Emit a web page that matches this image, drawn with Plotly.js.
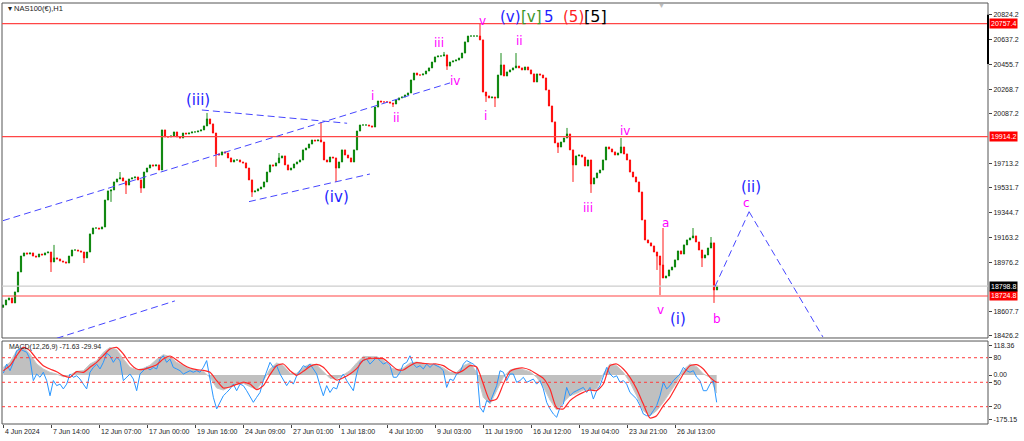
<!DOCTYPE html>
<html><head><meta charset="utf-8">
<script src="https://cdn.plot.ly/plotly-3.0.1.min.js"></script>
<style>html,body{margin:0;padding:0;background:#fff}#chart{width:1024px;height:441px}</style>
</head><body><div id="chart"></div>
<script>
// ---------- DATA ----------
const symbolTitle = 'NAS100(€),H1';
const macdTitle = 'MACD(12,26,9) -71.63 -29.94';
const firstOpen = 18640;
// closes of 4-hour groups of H1 bars (index k = group number)
const closes = [
18658,18695,18710,18673,18755,18904,19023,19046,19038,19046,
19023,19016,19038,19031,19046,19053,18979,19009,19001,18986,
18979,18971,19023,19068,19068,19061,19053,19009,19053,19188,
19232,19232,19225,19240,19441,19509,19516,19576,19598,19606,
19583,19553,19598,19606,19613,19591,19531,19650,19680,19703,
19695,19703,19665,19964,19912,19912,19919,19949,19912,19904,
19941,19934,19941,19949,19949,19956,19964,19994,20046,20009,
19941,19785,19777,19800,19792,19755,19725,19740,19740,19725,
19718,19680,19591,19501,19509,19524,19538,19576,19650,19703,
19695,19718,19755,19770,19703,19665,19680,19710,19725,19740,
19815,19829,19859,19889,19882,19889,19874,19740,19725,19762,
19755,19680,19725,19815,19777,19755,19725,19815,19956,20001,
20001,20001,19994,19986,20135,20180,20173,20173,20173,20165,
20158,20188,20203,20210,20225,20240,20337,20389,20374,20374,
20382,20404,20427,20471,20509,20516,20516,20524,20441,20471,
20479,20486,20501,20538,20621,20665,20665,20665,20665,20636,
20247,20218,20203,20210,20203,20374,20449,20367,20397,20412,
20427,20441,20427,20412,20434,20412,20382,20322,20382,20374,
20352,20262,20143,20024,19867,19837,19874,19904,19934,19815,
19703,19770,19777,19762,19695,19740,19561,19606,19643,19665,
19740,19837,19822,19800,19777,19792,19837,19785,19740,19650,
19613,19576,19501,19292,19143,19121,19098,19053,19023,18956,
18859,18874,18919,18941,18994,19061,19038,19106,19143,19158,
19173,19128,19068,19009,19031,19083,19121,18770,18798.8
];
const spikeHighK = [17,39,68,92,106,147,159,166,171,188,206,220,230,236];
const spikeHighP = [19106,19650,20091,19792,20024,20546,20762,20538,20538,19979,19904,19232,19232,19165];
const spikeLowK = [16,27,36,41,46,71,83,111,130,148,161,164,185,190,196,218,219,233,237];
const spikeLowP = [18904,18971,19427,19486,19494,19688,19464,19576,20135,20412,20173,20135,19792,19576,19494,18919,18732,18941,18673];

const levelPrices = [20757.4, 19914.2, 18724.8];
const bidPrice = 18798.8;
const priceTicks = [20824.2,20637.2,20455.7,20268.7,20087.2,19713.2,19531.7,19344.7,19163.2,18976.2,18607.7,18426.2];

const dateLabels = ['4 Jun 2024','7 Jun 14:00','12 Jun 07:00','17 Jun 00:00','19 Jun 16:00','24 Jun 09:00','27 Jun 01:00','1 Jul 18:00','4 Jul 10:00','9 Jul 03:00','11 Jul 19:00','16 Jul 12:00','19 Jul 04:00','23 Jul 21:00','26 Jul 13:00'];
const dateLabelStep = 16;

// trend lines: start index, start price, end index, end price
const trendK0 = [0, 66.3, 82, 17.9, 237.3, 248.7];
const trendP0 = [19287, 20113, 19429, 18409, 18794, 19354];
const trendK1 = [149, 114.7, 122.3, 57.3, 248.7, 273.3];
const trendP1 = [20315, 20014, 19635, 18688, 19354, 18419];

// wave labels
const degText = ['(iii)','(iv)','(i)','(ii)'];
const degK = [64.9, 111.2, 225.1, 249.3];
const degP = [20188, 19466, 18551, 19541];
const minText = ['i','ii','iii','iv','v','i','ii','iii','iv','a','v','b','c'];
const minK = [123.2,131.2,145.4,150.7,159.9,160.7,172.1,195.1,207.3,220.7,219,238.1,247.9];
const minP = [20218,20051,20611,20330,20780,20068,20630,19379,19959,19271,18621,18551,19417];
const topText = ['(v)','[v]','5','(5)','[5]'];
const topK = [164.9,172.1,179.6,185.9,192.9];
const topP = 20809;

// MACD panel (slow samples every 20/9 groups, fast samples every 10/9 groups)
const macdHist = [30.3,50.0,96.1,111.9,83.0,43.5,23.7,10.5,4.0,-6.6,
0,14.5,17.1,43.5,56.6,89.5,109.3,100.1,63.2,30.3,
19.8,26.3,38.2,61.9,80.3,72.4,50.0,35.6,23.7,18.4,
14.5,-9.2,-51.3,-59.3,-46.1,-36.9,-32.9,-46.1,-56.6,-22.4,
23.7,47.4,36.9,6.6,6.6,30.3,43.5,39.5,14.5,-13.2,
-15.8,1.3,17.1,47.4,73.7,72.4,72.4,59.3,30.3,19.8,
27.7,47.4,51.4,44.8,43.5,40.8,27.7,10.5,10.5,36.9,
47.4,10.5,-88.2,-114.6,-61.9,-9.2,19.8,
26.3,21.1,13.2,-9.2,-46.1,-98.8,-138.3,-108.0,-81.6,-72.4,
-59.3,-59.3,-55.3,4.0,43.5,36.9,10.5,-29.0,-81.6,-140.9,
-160.6,-140.9,-108.0,-68.5,-29.0,19.8,43.5,32.9,4.0,-9.2,-71.63];
const macdSignal = [17.1,36.9,76.4,109.3,96.1,63.2,36.9,23.7,13.2,-2.6,
-9.2,13.2,10.5,30.3,50.0,76.4,102.7,109.3,83.0,46.1,
23.7,22.4,30.3,40.8,63.2,75.1,59.3,40.8,27.7,21.1,
18.4,10.5,-22.4,-51.3,-47.4,-36.9,-29.0,-35.6,-57.9,-42.1,
1.3,36.9,43.5,17.1,-1.3,14.5,34.2,42.1,30.3,1.3,
-19.8,-10.5,4.0,25.0,57.9,65.8,65.8,64.5,43.5,22.4,
19.8,36.9,48.7,46.1,43.5,43.5,36.9,19.8,7.9,18.4,
36.9,31.6,-35.6,-101.4,-94.8,-35.6,14.5,25.0,27.7,19.8,
4.0,-13.2,-55.3,-130.4,-134.3,-101.4,-81.6,-68.5,-59.3,-61.9,
-35.6,36.9,43.5,23.7,-9.2,-55.3,-114.6,-169.9,-160.6,-121.1,
-88.2,-42.1,4.0,36.9,40.8,23.7,-9.2,-29.94];
const macdFast = [7,43,17,50,96,103,96,90,63,-22,
4,-9,11,-22,-82,-22,-42,-36,-55,-36,
4,-9,-3,-16,-36,-55,11,30,43,24,
50,86,76,50,70,57,-22,-9,4,-16,
-62,4,17,30,20,30,24,63,76,50,
63,30,24,17,4,11,17,11,17,11,
30,57,-9,-88,-134,-108,-82,-69,-55,-36,
-62,-36,-42,-62,-88,-108,-88,-69,-22,17,
50,30,37,4,-22,-42,-22,-36,-3,17,
37,30,43,24,4,-42,-82,-42,-69,-49,
-55,-16,4,-22,-42,-62,4,50,57,63,
43,57,70,57,43,50,37,-9,-9,11,
43,50,76,43,30,37,24,43,30,43,
37,30,17,-49,-16,-22,4,11,43,57,
50,43,30,-128,-147,-101,-108,-75,-42,17,
11,-22,4,
4,-29,-22,-9,-29,-22,-16,-36,-22,-55,
-108,-134,-154,-167,-128,-115,-49,-82,-69,-62,
-55,-49,-69,-49,-95,-62,-42,-9,30,4,
-9,-3,-29,-22,-36,-69,-82,-95,-121,-154,
-161,-161,-141,-121,-82,-29,-55,-42,-22,-9,
4,30,17,11,17,-9,-22,-62,-62,-36,
-22,-108];
const macdLevelVals = [68.3, -28.8, -125.2];
const macdTickVals = [118.36, 68.3, 0, -28.8, -125.2, -175.15];
const macdTickText = ['118.36','80','0.00','50','20','-175.15'];

// ---------- BUILD ----------
const K = closes.map((_, i) => i);
const opens = closes.map((c, i) => i === 0 ? firstOpen : closes[i - 1]);
const highs = closes.map((c, i) => Math.max(c, opens[i]));
const lows = closes.map((c, i) => Math.min(c, opens[i]));
spikeHighK.forEach((k, j) => { highs[k] = Math.max(highs[k], spikeHighP[j]); });
spikeLowK.forEach((k, j) => { lows[k] = Math.min(lows[k], spikeLowP[j]); });

const slowX = macdHist.map((_, i) => 1 / 9 + i * 20 / 9);
const fastX = macdFast.map((_, i) => 1 / 9 + i * 10 / 9);

const MAIN_DOM = [0.2043, 1];
const MACD_DOM = [0, 0.1971];
const FONT = '"Liberation Sans", Arial, sans-serif';
const LAB = '"DejaVu Sans", Verdana, sans-serif';

const traces = [
  {type: 'candlestick', x: K, open: opens, high: highs, low: lows, close: closes,
   xaxis: 'x', yaxis: 'y',
   increasing: {line: {color: 'rgb(0,128,0)', width: 0.9}, fillcolor: 'rgb(0,128,0)'},
   decreasing: {line: {color: 'rgb(255,0,0)', width: 0.9}, fillcolor: 'rgb(255,0,0)'},
   hoverinfo: 'skip'},
  {type: 'scatter', mode: 'lines', x: slowX, y: macdHist, xaxis: 'x', yaxis: 'y2',
   fill: 'tozeroy', fillcolor: 'rgb(192,192,192)', line: {color: 'rgb(200,200,200)', width: 1}, hoverinfo: 'skip'},
  {type: 'scatter', mode: 'lines', x: fastX, y: macdFast, xaxis: 'x', yaxis: 'y2',
   line: {color: 'rgb(40,150,255)', width: 1}, hoverinfo: 'skip'},
  {type: 'scatter', mode: 'lines', x: slowX, y: macdSignal, xaxis: 'x', yaxis: 'y2',
   line: {color: 'rgb(255,40,40)', width: 1.2, shape: 'spline', smoothing: 0.6}, hoverinfo: 'skip'}
];

const shapes = [];
// panel frames
shapes.push({type: 'rect', xref: 'paper', yref: 'paper', x0: 0, x1: 1, y0: MAIN_DOM[0], y1: MAIN_DOM[1], line: {color: '#555', width: 1}});
shapes.push({type: 'rect', xref: 'paper', yref: 'paper', x0: 0, x1: 1, y0: MACD_DOM[0], y1: MACD_DOM[1], line: {color: '#555', width: 1}});
// horizontal levels
levelPrices.forEach(p => shapes.push({type: 'line', xref: 'paper', x0: 0, x1: 1, yref: 'y', y0: p, y1: p, line: {color: 'rgb(255,70,70)', width: 1.2}}));
shapes.push({type: 'line', xref: 'paper', x0: 0, x1: 1, yref: 'y', y0: bidPrice, y1: bidPrice, line: {color: 'rgb(205,205,205)', width: 1.2}});
// trend lines
trendK0.forEach((k0, i) => shapes.push({type: 'line', xref: 'x', yref: 'y', x0: k0, y0: trendP0[i], x1: trendK1[i], y1: trendP1[i],
  line: {color: 'rgb(70,70,255)', width: 1, dash: '7px,4px'}}));
// macd levels
macdLevelVals.forEach(v => shapes.push({type: 'line', xref: 'paper', x0: 0, x1: 1, yref: 'y2', y0: v, y1: v, line: {color: 'rgb(255,60,60)', width: 1, dash: 'dot'}}));
// scale marker
shapes.push({type: 'line', xref: 'paper', x0: 1, x1: 1, yref: 'y', y0: priceTicks[0], y1: priceTicks[2], line: {color: '#000', width: 2}});

const ann = [];
ann.push({xref: 'paper', yref: 'paper', x: 0.004, y: 0.986, xanchor: 'left', yanchor: 'middle', showarrow: false,
  text: '▾ ' + symbolTitle, font: {family: FONT, size: 7.5, color: '#222'}});
ann.push({xref: 'paper', yref: 'paper', x: 0.669, y: 0.995, xanchor: 'center', yanchor: 'middle', showarrow: false,
  text: '▼', font: {family: FONT, size: 7, color: '#bbb'}});
ann.push({xref: 'paper', yref: 'paper', x: 0.005, y: 0.1836, xanchor: 'left', yanchor: 'middle', showarrow: false,
  text: macdTitle, font: {family: FONT, size: 7, color: '#222'}});
dateLabels.forEach((t, i) => ann.push({xref: 'x', yref: 'paper', x: i * dateLabelStep, y: 0, yshift: -2, xanchor: 'left', yanchor: 'top',
  showarrow: false, text: t, font: {family: FONT, size: 7, color: '#222'}}));
// price boxes
levelPrices.forEach(p => ann.push({xref: 'paper', yref: 'y', x: 1, y: p, xanchor: 'left', yanchor: 'middle', xshift: 1, showarrow: false,
  text: p.toFixed(1), bgcolor: 'rgb(255,0,0)', borderpad: 1, font: {family: FONT, size: 7, color: '#fff'}}));
ann.push({xref: 'paper', yref: 'y', x: 1, y: bidPrice, xanchor: 'left', yanchor: 'middle', xshift: 1, showarrow: false,
  text: bidPrice.toFixed(1), bgcolor: '#000', borderpad: 1, font: {family: FONT, size: 7, color: '#fff'}});
// wave labels
degText.forEach((t, i) => ann.push({xref: 'x', yref: 'y', x: degK[i], y: degP[i], showarrow: false, text: t,
  font: {family: LAB, size: 15, color: 'rgb(30,30,255)'}}));
minText.forEach((t, i) => ann.push({xref: 'x', yref: 'y', x: minK[i], y: minP[i], showarrow: false, text: t,
  font: {family: LAB, size: 12, color: 'rgb(255,0,255)'}}));
const topColors = ['rgb(30,30,255)', 'rgb(60,150,40)', 'rgb(30,30,255)', 'rgb(255,30,30)', '#000'];
topText.forEach((t, i) => ann.push({xref: 'x', yref: 'y', x: topK[i], y: topP, xanchor: 'left', showarrow: false, text: t,
  font: {family: LAB, size: i === 4 ? 16 : 15, color: topColors[i]}}));

const layout = {
  width: 1024, height: 441,
  margin: {l: 2, r: 36, t: 3, b: 17, pad: 0},
  paper_bgcolor: '#fff', plot_bgcolor: '#fff', showlegend: false,
  boxgap: 0.45,
  font: {family: FONT, size: 7, color: '#222'},
  xaxis: {range: [-0.333, 328.333], anchor: 'y2', showgrid: false, zeroline: false, showline: false,
    tickvals: dateLabels.map((_, i) => i * dateLabelStep), ticks: 'outside', ticklen: 3, tickcolor: '#444',
    showticklabels: false, rangeslider: {visible: false}},
  yaxis: {domain: MAIN_DOM, range: [18411.3, 20911.5], side: 'right', anchor: 'x', showgrid: false, zeroline: false,
    tickvals: priceTicks, ticktext: priceTicks.map(v => v.toFixed(1)), ticks: 'outside', ticklen: 3, tickcolor: '#444',
    tickfont: {family: FONT, size: 7, color: '#222'}},
  yaxis2: {domain: MACD_DOM, range: [-193.6, 134.3], side: 'right', anchor: 'x', showgrid: false, zeroline: false,
    tickvals: macdTickVals, ticktext: macdTickText, ticks: 'outside', ticklen: 3, tickcolor: '#444',
    tickfont: {family: FONT, size: 7, color: '#222'}},
  shapes: shapes, annotations: ann
};

Plotly.newPlot('chart', traces, layout, {staticPlot: true, displayModeBar: false});
</script>
</body></html>
